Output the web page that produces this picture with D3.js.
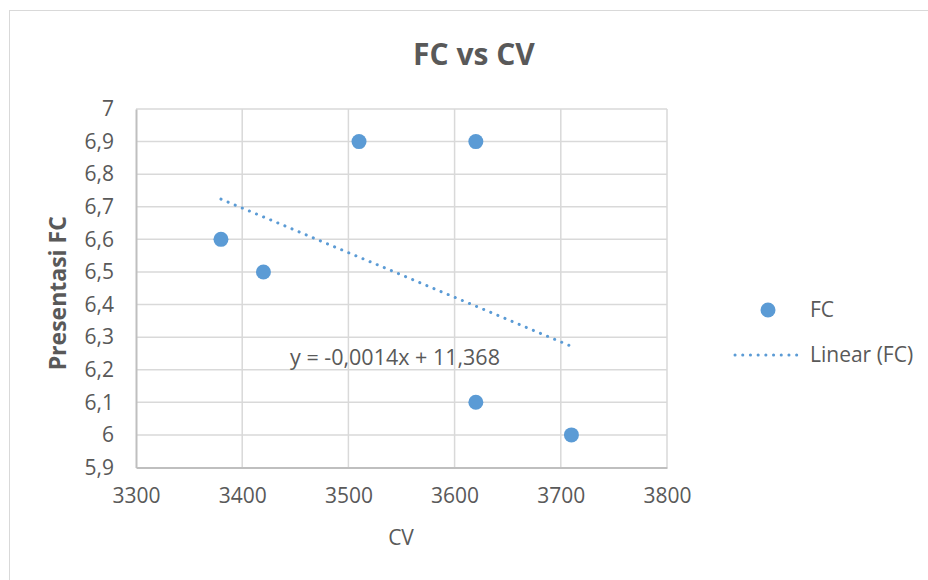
<!DOCTYPE html>
<html>
<head>
<meta charset="utf-8">
<script src="https://cdn.jsdelivr.net/npm/d3@7"></script>
<style>
  html, body { margin: 0; padding: 0; background: #fff; }
  svg { display: block; font-family: "Open Sans", sans-serif; }
</style>
</head>
<body>
<div id="chart"></div>
<script>
const cv = [3380, 3420, 3510, 3620, 3620, 3710]
const fc = [6.6, 6.5, 6.9, 6.9, 6.1, 6.0]
const xTicks = [3300, 3400, 3500, 3600, 3700, 3800]
const yTicks = [5.9, 6, 6.1, 6.2, 6.3, 6.4, 6.5, 6.6, 6.7, 6.8, 6.9, 7]
const equation = "y = -0,0014x + 11,368"

const width = 928
const height = 580
const plot = { left: 136, right: 667, top: 109, bottom: 467.5 }

const points = cv.map((x, i) => ({ x, y: fc[i] }))

// least squares fit for the trendline
const mx = d3.mean(cv)
const my = d3.mean(fc)
const slope = d3.sum(points, d => (d.x - mx) * (d.y - my)) / d3.sum(points, d => (d.x - mx) ** 2)
const icept = my - slope * mx
const xr = d3.extent(cv)
const trend = xr.map(x => ({ x, y: icept + slope * x }))

const x = d3.scaleLinear().domain([3300, 3800]).range([plot.left, plot.right])
const y = d3.scaleLinear().domain([5.9, 7]).range([plot.bottom, plot.top])
const fmt = d => String(d).replace(".", ",")

const svg = d3.select("#chart")
    .append("svg")
    .attr("width", width)
    .attr("height", height)

svg.append("rect")
    .attr("x", 9.5)
    .attr("y", 10.5)
    .attr("width", width + 20)
    .attr("height", height + 20)
    .attr("fill", "#fff")
    .attr("stroke", "#d9d9d9")
    .attr("stroke-width", 1)

svg.append("text")
    .attr("x", 474)
    .attr("y", 65)
    .attr("text-anchor", "middle")
    .attr("font-size", 30)
    .attr("font-weight", "bold")
    .attr("fill", "#595959")
    .text("FC vs CV")

// gridlines
svg.append("g")
    .selectAll("line")
    .data(yTicks.slice(1))
    .join("line")
    .attr("x1", plot.left)
    .attr("x2", plot.right)
    .attr("y1", d => y(d))
    .attr("y2", d => y(d))
    .attr("stroke", "#d9d9d9")
    .attr("stroke-width", 1.5)

svg.append("g")
    .selectAll("line")
    .data(xTicks.slice(1))
    .join("line")
    .attr("x1", d => x(d))
    .attr("x2", d => x(d))
    .attr("y1", plot.top)
    .attr("y2", plot.bottom)
    .attr("stroke", "#d9d9d9")
    .attr("stroke-width", 1.5)

// axes
const xAxis = svg.append("g")
    .attr("transform", `translate(0,${plot.bottom})`)
    .call(d3.axisBottom(x).tickValues(xTicks).tickSize(0).tickPadding(21).tickFormat(d => d))
xAxis.select(".domain").attr("stroke", "#bfbfbf").attr("stroke-width", 2)
xAxis.selectAll("text").attr("font-size", 21).attr("fill", "#595959").attr("font-family", "Open Sans")

const yAxis = svg.append("g")
    .attr("transform", `translate(${plot.left},0)`)
    .call(d3.axisLeft(y).tickValues(yTicks).tickSize(0).tickPadding(22).tickFormat(fmt))
yAxis.select(".domain").attr("stroke", "#bfbfbf").attr("stroke-width", 2)
yAxis.selectAll("text").attr("font-size", 21).attr("fill", "#595959").attr("font-family", "Open Sans")

// trendline
svg.append("path")
    .datum(trend)
    .attr("d", d3.line().x(d => x(d.x)).y(d => y(d.y)))
    .attr("fill", "none")
    .attr("stroke", "#5b9bd5")
    .attr("stroke-width", 3)
    .attr("stroke-linecap", "round")
    .attr("stroke-dasharray", "0.1 7.6")

svg.append("g")
    .selectAll("circle")
    .data(points)
    .join("circle")
    .attr("cx", d => x(d.x))
    .attr("cy", d => y(d.y))
    .attr("r", 7.5)
    .attr("fill", "#5b9bd5")

svg.append("text")
    .attr("x", 395)
    .attr("y", 365)
    .attr("text-anchor", "middle")
    .attr("font-size", 21.5)
    .attr("fill", "#595959")
    .text(equation)

// axis titles
svg.append("text")
    .attr("x", 401)
    .attr("y", 545)
    .attr("text-anchor", "middle")
    .attr("font-size", 21)
    .attr("fill", "#595959")
    .text("CV")

svg.append("text")
    .attr("transform", `translate(66,${(plot.top + plot.bottom) / 2 + 5}) rotate(-90)`)
    .attr("text-anchor", "middle")
    .attr("font-size", 23)
    .attr("font-weight", "bold")
    .attr("fill", "#595959")
    .text("Presentasi FC")

// legend
const legend = svg.append("g")
legend.append("circle")
    .attr("cx", 768)
    .attr("cy", 310)
    .attr("r", 7.5)
    .attr("fill", "#5b9bd5")
legend.append("text")
    .attr("x", 810)
    .attr("y", 317)
    .attr("font-size", 21)
    .attr("fill", "#595959")
    .text("FC")
legend.append("line")
    .attr("x1", 735)
    .attr("x2", 803)
    .attr("y1", 355)
    .attr("y2", 355)
    .attr("stroke", "#5b9bd5")
    .attr("stroke-width", 3)
    .attr("stroke-linecap", "round")
    .attr("stroke-dasharray", "0.1 7.6")
legend.append("text")
    .attr("x", 810)
    .attr("y", 362)
    .attr("font-size", 21)
    .attr("fill", "#595959")
    .text("Linear (FC)")
</script>
</body>
</html>
